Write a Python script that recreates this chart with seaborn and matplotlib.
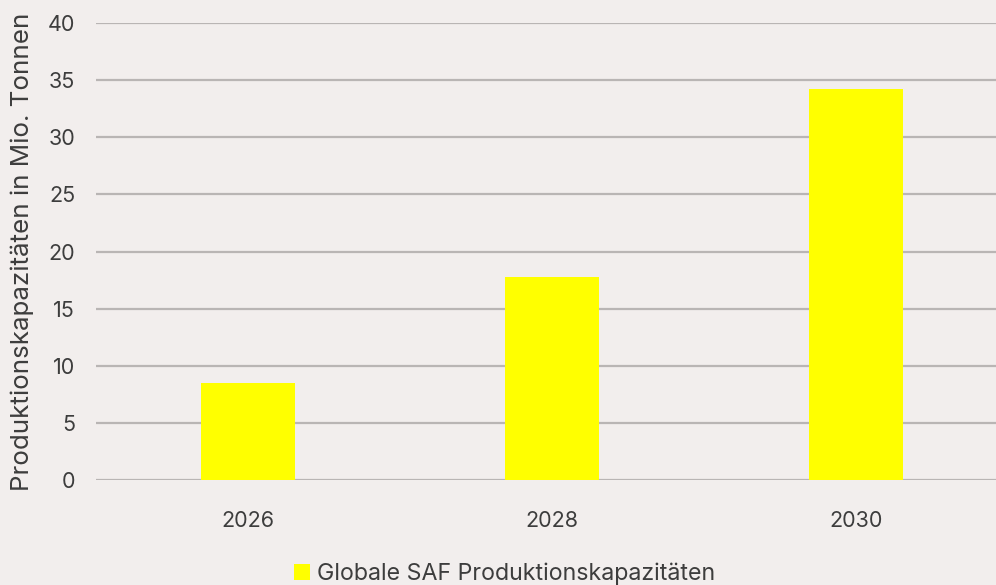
import matplotlib
matplotlib.use("Agg")
import matplotlib.pyplot as plt
import seaborn as sns
import pandas as pd

years = ["2026", "2028", "2030"]
capacity = [8.5, 17.8, 34.2]
series_label = "Globale SAF Produktionskapazitäten"
y_label = "Produktionskapazitäten in Mio. Tonnen"
y_ticks = [0, 5, 10, 15, 20, 25, 30, 35, 40]

bg = "#f2eeed"
grid_col = "#b9b5b4"
text_col = "#3d3d3d"
bar_col = "#ffff00"

sns.set_theme(style="white")
plt.rcParams["font.family"] = ["Inter", "DejaVu Sans"]

fig = plt.figure(figsize=(9.96, 5.85), dpi=100, facecolor=bg)
ax = fig.add_axes([96 / 996, 105 / 585, 912 / 996, 457 / 585])
ax.set_facecolor(bg)

df = pd.DataFrame({"Jahr": years, "Kapazität": capacity})
sns.barplot(data=df, x="Jahr", y="Kapazität", color=bar_col, saturation=1,
            width=0.31, ax=ax, label=series_label, zorder=3, linewidth=0)

ax.set_ylim(0, 40)
ax.set_xlim(-0.5, 2.5)
ax.set_yticks(y_ticks)
ax.yaxis.grid(True, color=grid_col, linewidth=1.6)
ax.set_axisbelow(True)
for s in ax.spines.values():
    s.set_visible(False)
ax.tick_params(axis="both", length=0, labelsize=15.5, labelcolor=text_col)
ax.tick_params(axis="y", pad=15)
ax.tick_params(axis="x", pad=22)
ax.set_xlabel("")
ax.set_ylabel(y_label, fontsize=18.7, color=text_col)
ax.yaxis.set_label_coords(-62 / 912, 0.5)

ax.legend().remove()
handles, labels = ax.get_legend_handles_labels()
fig.legend(handles, labels, loc="center", bbox_to_anchor=(505 / 996, 1 - 574 / 585),
           frameon=False, fontsize=16.7, labelcolor=text_col,
           handlelength=0.69, handleheight=0.69, handletextpad=0.3)

fig.savefig("out.png", dpi=100, facecolor=bg)
